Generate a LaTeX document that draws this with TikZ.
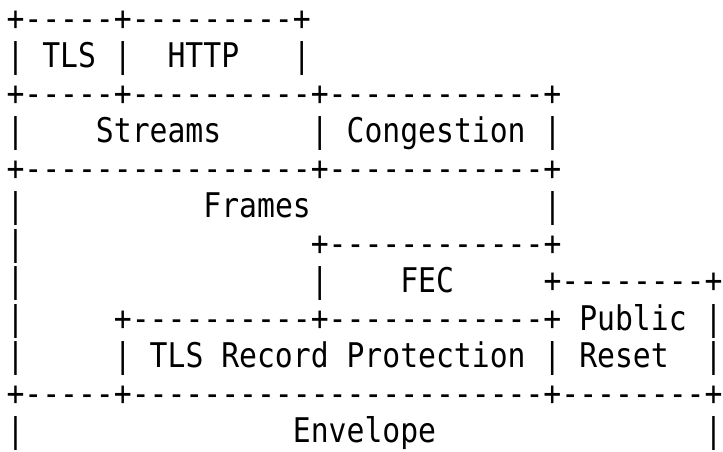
\documentclass[tikz,border=0pt]{standalone}
\usepackage{fontspec}
\newfontfamily\asciifont[Ligatures=ResetAll]{DejaVu Sans Mono}
\tikzset{
  asciirow/.style={anchor=base west, inner sep=0pt, outer sep=0pt,
    font=\asciifont\fontsize{34pt}{37.6pt}\selectfont, text=black}
}
\newcommand\asciiline[3]{\node[asciirow] (#1) at (6.5pt,{-30pt-37.5pt*(#2-1)}) {\scalebox{0.8745}[1]{#3}};}
\begin{document}
\begin{tikzpicture}
\useasboundingbox (0,0) rectangle (723pt,-451pt);
\asciiline{l1}{1}{+-----+---------+}
\asciiline{l2}{2}{|~TLS~|~~HTTP~~~|}
\asciiline{l3}{3}{+-----+----------+------------+}
\asciiline{l4}{4}{|~~~~Streams~~~~~|~Congestion~|}
\asciiline{l5}{5}{+----------------+------------+}
\asciiline{l6}{6}{|~~~~~~~~~~Frames~~~~~~~~~~~~~|}
\asciiline{l7}{7}{|~~~~~~~~~~~~~~~~+------------+}
\asciiline{l8}{8}{|~~~~~~~~~~~~~~~~|~~~~FEC~~~~~+--------+}
\asciiline{l9}{9}{|~~~~~+----------+------------+~Public~|}
\asciiline{l10}{10}{|~~~~~|~TLS~Record~Protection~|~Reset~~|}
\asciiline{l11}{11}{+-----+-----------------------+--------+}
\asciiline{l12}{12}{|~~~~~~~~~~~~~~~Envelope~~~~~~~~~~~~~~~|}
\end{tikzpicture}
\end{document}
